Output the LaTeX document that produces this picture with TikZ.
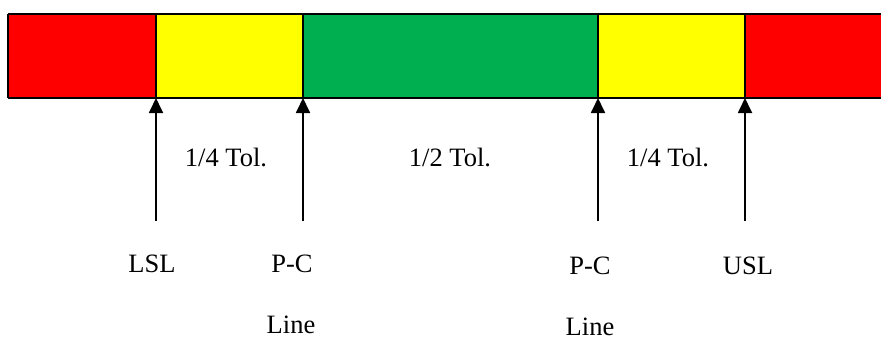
\documentclass[tikz,border=0pt]{standalone}
\usepackage{fontspec}
\setmainfont{Liberation Serif}
\usetikzlibrary{arrows.meta}
\definecolor{redz}{RGB}{255,0,0}
\definecolor{yelz}{RGB}{255,255,0}
\definecolor{grnz}{RGB}{0,176,80}
\begin{document}
\begin{tikzpicture}[x=1pt,y=-1pt,
  seg/.style={inner sep=0pt, outer sep=0pt, minimum height=84pt, anchor=north west},
  border/.style={line width=2pt, black},
  lab/.style={font=\fontsize{26.5}{30}\selectfont, inner sep=0pt, anchor=base},
  arr/.style={-{Triangle[length=15pt,width=14pt]}, line width=1.8pt}]
\useasboundingbox (0,0) rectangle (881,341);
% segments
\node[seg, fill=redz, minimum width=148pt] (s1) at (8,14) {};
\node[seg, fill=yelz, minimum width=147pt] (s2) at (156,14) {};
\node[seg, fill=grnz, minimum width=295pt] (s3) at (303,14) {};
\node[seg, fill=yelz, minimum width=147pt] (s4) at (598,14) {};
\node[seg, fill=redz, minimum width=136pt] (s5) at (745,14) {};
% borders
\draw[border] (s1.north west) -- (s5.north east);
\draw[border] (s1.south west) -- (s5.south east);
\draw[border] (s1.north west) -- (s1.south west);
\draw[border] (s2.north west) -- (s2.south west);
\draw[border] (s3.north west) -- (s3.south west);
\draw[border] (s4.north west) -- (s4.south west);
\draw[border] (s5.north west) -- (s5.south west);
% arrow bases
\coordinate (b1) at (156,221);
\coordinate (b2) at (303,221);
\coordinate (b3) at (598,221);
\coordinate (b4) at (745,221);
\draw[arr] (b1) -- (s2.south west);
\draw[arr] (b2) -- (s3.south west);
\draw[arr] (b3) -- (s4.south west);
\draw[arr] (b4) -- (s5.south west);
% labels
\node[lab] (t1) at (226,166) {1/4 Tol.};
\node[lab] (t2) at (450,166) {1/2 Tol.};
\node[lab] (t3) at (668,166) {1/4 Tol.};
\node[lab] (l1) at (152,272) {LSL};
\node[lab] (l2) at (292,272) {P-C};
\node[lab] (l3) at (291,333) {Line};
\node[lab] (l4) at (590,274) {P-C};
\node[lab] (l5) at (590,335) {Line};
\node[lab] (l6) at (748,274) {USL};
\end{tikzpicture}
\end{document}
